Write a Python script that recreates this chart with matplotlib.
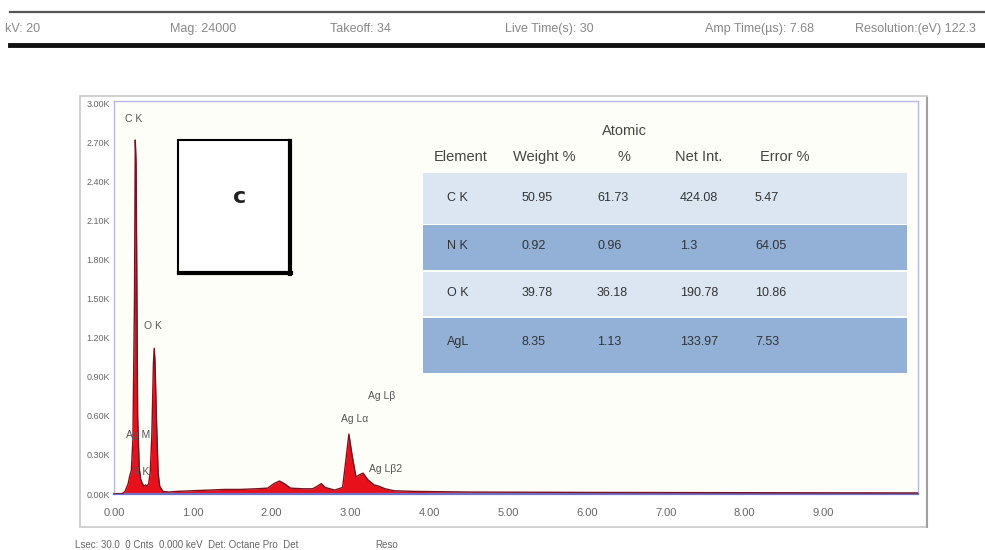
import matplotlib
matplotlib.use("Agg")
import matplotlib.pyplot as plt
from matplotlib.patches import Rectangle
from matplotlib.lines import Line2D

plt.rcParams["font.family"] = ["Liberation Sans", "DejaVu Sans"]

W, H = 985, 550

# --- spectrum (energy in keV, counts in K) ---
energy = [0.00, 0.10, 0.14, 0.18, 0.20, 0.22, 0.24, 0.26, 0.27, 0.28, 0.29, 0.30,
          0.32, 0.34, 0.36, 0.38, 0.40, 0.42, 0.44, 0.46, 0.48, 0.50, 0.51, 0.52,
          0.54, 0.56, 0.58, 0.62, 0.70, 0.80, 1.00, 1.20, 1.40, 1.60, 1.80, 1.95,
          2.03, 2.10, 2.16, 2.24, 2.40, 2.52, 2.58, 2.63, 2.68, 2.80, 2.90, 2.94,
          2.98, 3.02, 3.07, 3.12, 3.16, 3.22, 3.30, 3.36, 3.44, 3.55, 3.80, 4.50,
          6.00, 8.00, 10.20]
counts = [0.00, 0.00, 0.02, 0.08, 0.14, 0.18, 0.42, 1.50, 2.72, 2.55, 1.60, 0.60,
          0.20, 0.11, 0.08, 0.06, 0.07, 0.06, 0.08, 0.17, 0.45, 1.00, 1.12, 1.02,
          0.55, 0.16, 0.06, 0.02, 0.015, 0.02, 0.025, 0.03, 0.035, 0.035, 0.04, 0.045,
          0.08, 0.10, 0.08, 0.045, 0.04, 0.04, 0.06, 0.08, 0.05, 0.03, 0.05, 0.25,
          0.46, 0.30, 0.13, 0.15, 0.16, 0.11, 0.07, 0.06, 0.04, 0.025, 0.02, 0.015,
          0.012, 0.010, 0.008]

peak_labels = ["C K", "O K", "Ag M", "N K", "Ag L\u03b2", "Ag L\u03b1", "Ag L\u03b22"]
label_x = [0.25, 0.49, 0.31, 0.34, 3.40, 3.05, 3.44]
label_y = [2.88, 1.29, 0.45, 0.17, 0.75, 0.58, 0.19]

x_ticks = [0, 1, 2, 3, 4, 5, 6, 7, 8, 9]
y_ticks = [0.0, 0.3, 0.6, 0.9, 1.2, 1.5, 1.8, 2.1, 2.4, 2.7, 3.0]

# --- quantification table ---
tbl_header = ["Element", "Weight %", "Atomic\n%", "Net Int.", "Error %"]
tbl_element = ["C K", "N K", "O K", "AgL"]
tbl_weight = ["50.95", "0.92", "39.78", "8.35"]
tbl_atomic = ["61.73", "0.96", "36.18", "1.13"]
tbl_netint = ["424.08", "1.3", "190.78", "133.97"]
tbl_error = ["5.47", "64.05", "10.86", "7.53"]

header_items = ["kV: 20", "Mag: 24000", "Takeoff: 34", "Live Time(s): 30",
                "Amp Time(\u00b5s): 7.68", "Resolution:(eV) 122.3"]
footer_items = ["Lsec: 30.0  0 Cnts  0.000 keV  Det: Octane Pro  Det", "Reso"]


def fx(px):
    return px / W


def fy(py):
    return 1 - py / H


fig = plt.figure(figsize=(W / 100, H / 100), dpi=100)
fig.patch.set_facecolor("white")

# header strip
fig.add_artist(Line2D([fx(10), fx(985)], [fy(12), fy(12)], color="#555555", lw=1.6))
fig.add_artist(Line2D([fx(10), fx(985)], [fy(45), fy(45)], color="#111111", lw=3.5))
for txt, px in zip(header_items, [5, 170, 330, 505, 705, 855]):
    fig.text(fx(px), fy(29), txt, fontsize=9, color="#888888", va="center", ha="left")

# outer panel frame
fig.add_artist(Rectangle((fx(80), fy(527)), fx(927) - fx(80), fy(96) - fy(527),
                         transform=fig.transFigure, fill=False, ec="#c8c8c8", lw=1.2))
fig.add_artist(Line2D([fx(927), fx(927)], [fy(527), fy(98)], color="#a0a0a0", lw=1.5))

ax = fig.add_axes([fx(114), fy(494), fx(918) - fx(114), fy(101) - fy(494)])
ax.set_facecolor("#fefef8")
ax.fill_between(energy, counts, 0, color="#e8101a", lw=0, zorder=2)
ax.plot(energy, counts, color="#7a1020", lw=1.0, zorder=3)
ax.set_xlim(0, 10.2)
ax.set_ylim(0, 3.02)
ax.set_xticks(x_ticks)
ax.set_xticklabels([f"{v:.2f}" for v in x_ticks])
ax.set_yticks(y_ticks)
ax.set_yticklabels([f"{v:.2f}K" for v in y_ticks])
ax.tick_params(axis="x", length=0, labelsize=8, labelcolor="#666666", pad=10)
ax.tick_params(axis="y", length=0, labelsize=6.5, labelcolor="#666666", pad=3)
for s in ax.spines.values():
    s.set_color("#b8b8e8")
    s.set_linewidth(1.0)
ax.spines["bottom"].set_color("#7070c8")
ax.spines["bottom"].set_linewidth(1.6)

for t, x, y in zip(peak_labels, label_x, label_y):
    ax.text(x, y, t, fontsize=7.5, color="#555555", ha="center", va="center", zorder=4)

# inset box with panel letter
fig.add_artist(Rectangle((fx(178), fy(273)), fx(290) - fx(178), fy(140) - fy(273),
                         transform=fig.transFigure, fill=True, fc="white", ec="black", lw=1.5))
fig.add_artist(Line2D([fx(290), fx(290)], [fy(274), fy(141)], color="black", lw=3))
fig.add_artist(Line2D([fx(179), fx(291)], [fy(273), fy(273)], color="black", lw=3))
fig.text(fx(240), fy(197), "c", fontsize=16, fontweight="bold", color="#222222",
         ha="center", va="center", family=["DejaVu Sans"])

# table
row_tops = [173, 225, 272, 318]
row_bots = [224, 270, 316, 373]
row_cols = ["#dce6f2", "#93b1d6", "#dce6f2", "#93b1d6"]
for top, bot, c in zip(row_tops, row_bots, row_cols):
    fig.add_artist(Rectangle((fx(423), fy(bot)), fx(907) - fx(423), fy(top) - fy(bot),
                             transform=fig.transFigure, fc=c, ec="none"))

head_x = [461, 544, 624, 699, 785]
for t, px in zip(tbl_header, head_x):
    if "\n" in t:
        top, bot = t.split("\n")
        fig.text(fx(px), fy(131), top, fontsize=10.5, color="#444444", ha="center", va="center")
        fig.text(fx(px), fy(157), bot, fontsize=10.5, color="#444444", ha="center", va="center")
    else:
        fig.text(fx(px), fy(157), t, fontsize=10.5, color="#444444", ha="center", va="center")

col_x = [447, 522, 597, 680, 755]
row_y = [198, 246, 293, 342]
columns = [tbl_element, tbl_weight, tbl_atomic, tbl_netint, tbl_error]
for col, px in zip(columns, col_x):
    for val, py in zip(col, row_y):
        fig.text(fx(px), fy(py), val, fontsize=9, color="#333333", ha="left", va="center")

# footer
fig.text(fx(75), fy(545), footer_items[0], fontsize=7, color="#666666", ha="left", va="center")
fig.text(fx(375), fy(545), footer_items[1], fontsize=7, color="#666666", ha="left", va="center")

fig.savefig("out.png", dpi=100)
